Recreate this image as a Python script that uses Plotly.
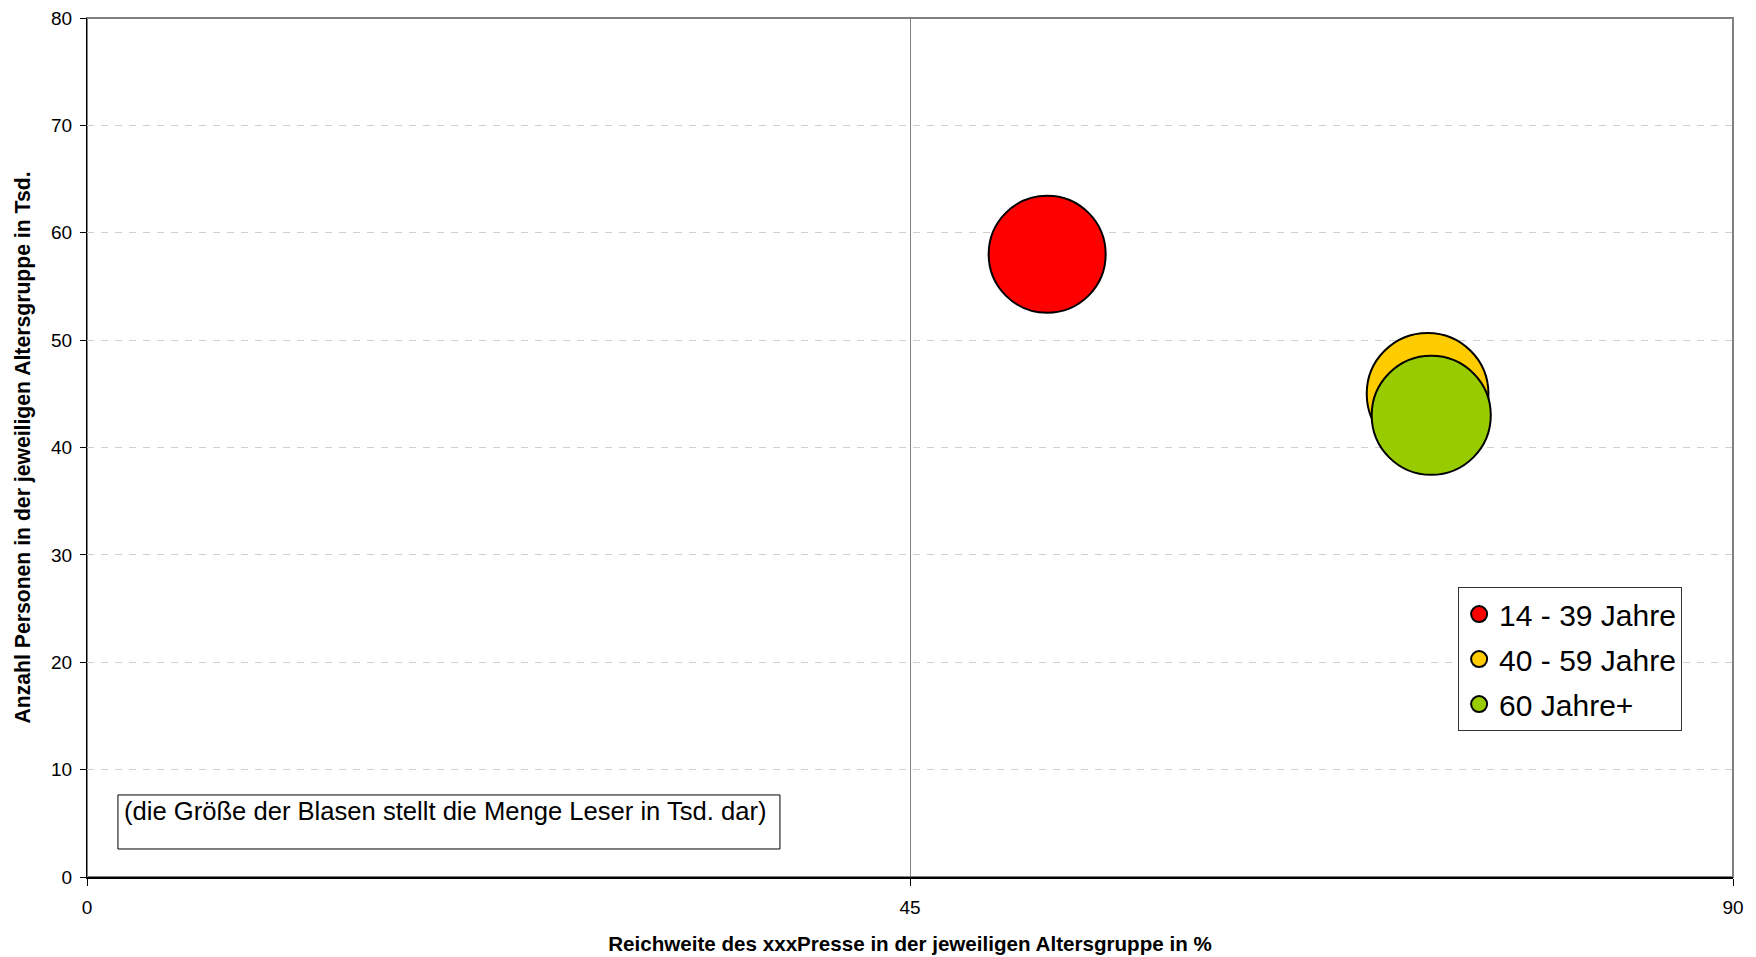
import plotly.graph_objects as go

# Altersgruppen und Kennzahlen
gruppen = ["14 - 39 Jahre", "40 - 59 Jahre", "60 Jahre+"]
reichweite = [52.5, 73.3, 73.5]          # Reichweite in % (x)
anzahl_personen = [58.0, 45.0, 43.0]     # Personen in Tsd. (y)
leser = [30.5, 33.0, 31.6]               # Leser in Tsd. (Blasengröße)
farben = ["#FF0000", "#FFCC00", "#99CC00"]

x_ticks = [0, 45, 90]
y_ticks = [0, 10, 20, 30, 40, 50, 60, 70, 80]

FONT = "Liberation Sans, Arial, sans-serif"
# Blasenfläche proportional zur Leserzahl
SIZEREF = 2.0 * leser[0] / 117.0 ** 2

fig = go.Figure()
for name, xv, yv, sv, col in zip(gruppen, reichweite, anzahl_personen, leser, farben):
    fig.add_trace(go.Scatter(
        x=[xv], y=[yv], name=name, mode="markers", legendgroup=name,
        marker=dict(size=[sv], sizemode="area", sizeref=SIZEREF,
                    color=col, opacity=1, line=dict(color="black", width=2)),
    ))

fig.update_layout(
    width=1756, height=957,
    margin=dict(l=87, r=23, t=18, b=80, autoexpand=False),
    paper_bgcolor="white", plot_bgcolor="white",
    font=dict(family=FONT, color="black"),
    showlegend=True,
    legend=dict(
        x=0.833, y=0.3375, xanchor="left", yanchor="top",
        bgcolor="white", bordercolor="#333333", borderwidth=1,
        font=dict(family=FONT, size=30, color="black"),
        itemsizing="trace", tracegroupgap=3,
    ),
    xaxis=dict(
        range=[0, 90], tickvals=x_ticks, ticktext=[str(v) for v in x_ticks],
        showgrid=True, gridcolor="#808080", gridwidth=1,
        showline=True, linecolor="black", linewidth=2,
        ticks="outside", ticklen=7, tickcolor="black", tickwidth=1,
        tickfont=dict(family=FONT, size=19, color="black"),
        ticklabelstandoff=5,
        zeroline=False, automargin=False,
        title=dict(text="<b>Reichweite des xxxPresse in der jeweiligen Altersgruppe in %</b>",
                   font=dict(family=FONT, size=20.6, color="black"), standoff=20),
    ),
    yaxis=dict(
        range=[0, 80], tickvals=y_ticks, ticktext=[str(v) for v in y_ticks],
        showgrid=True, gridcolor="#CFCFCF", gridwidth=1, griddash="7px,7px",
        showline=True, linecolor="black", linewidth=1,
        ticks="outside", ticklen=6, tickcolor="black", tickwidth=1,
        tickfont=dict(family=FONT, size=19, color="black"),
        ticklabelstandoff=4,
        zeroline=False, automargin=False,
        title=dict(text="<b>Anzahl Personen in der jeweiligen Altersgruppe in Tsd.</b>",
                   font=dict(family=FONT, size=21.2, color="black"), standoff=14),
    ),
    shapes=[
        # Rahmen der Zeichenfläche (oben/rechts)
        dict(type="rect", xref="paper", yref="paper", x0=0, x1=1, y0=0, y1=1,
             line=dict(color="#808080", width=2), layer="below"),
        # Hinweisbox
        dict(type="rect", xref="paper", yref="paper", x0=0.0188, x1=0.421,
             y0=0.0326, y1=0.0955, line=dict(color="black", width=1),
             fillcolor="white", layer="above"),
    ],
    annotations=[
        dict(text="(die Größe der Blasen stellt die Menge Leser in Tsd. dar)",
             xref="paper", yref="paper", x=0.0213, y=0.0768,
             xanchor="left", yanchor="middle", showarrow=False,
             font=dict(family=FONT, size=25.6, color="black")),
    ],
)

fig.write_html("out.html")
